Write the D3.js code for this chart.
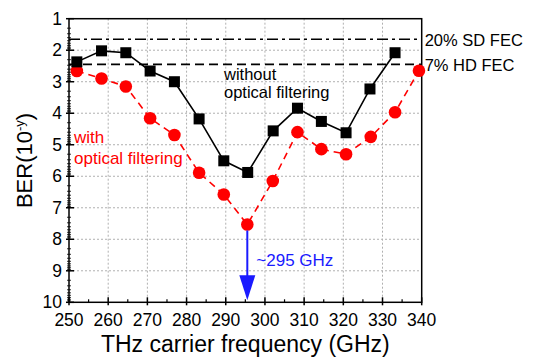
<!DOCTYPE html>
<html>
<head>
<meta charset="utf-8">
<script src="https://cdn.jsdelivr.net/npm/d3@7"></script>
<style>
  body { margin: 0; background: #fff; }
  text { font-family: "Liberation Sans", Arial, sans-serif; }
</style>
</head>
<body>
<svg id="chart" width="536" height="357"></svg>
<script>
// measured values
var freqWithout = [252, 258.3, 264.5, 270.7, 276.9, 283.2, 289.5, 295.6, 302.1, 308.3, 314.4, 320.7, 326.8, 333.2];
var berWithout = [2.37, 2.02, 2.08, 2.66, 3.0, 4.18, 5.51, 5.88, 4.56, 3.84, 4.26, 4.62, 3.23, 2.08];

var freqWith = [252, 258.3, 264.5, 270.7, 276.9, 283.2, 289.5, 295.5, 302, 308.3, 314.4, 320.7, 327, 333.2, 339.3];
var berWith = [2.66, 2.9, 3.15, 4.16, 4.69, 5.89, 6.58, 7.53, 6.15, 4.6, 5.14, 5.3, 4.75, 3.97, 2.65];

var xTicks = [250, 260, 270, 280, 290, 300, 310, 320, 330, 340];
var yTicks = [1, 2, 3, 4, 5, 6, 7, 8, 9, 10];
var sdFec = 1.65;
var hdFec = 2.45;
var peakFreq = 295.5;
var peakBer = 7.53;

var svg = d3.select("#chart");

var x = d3.scaleLinear().domain([250, 340]).range([69, 421.7]);
var y = d3.scaleLinear().domain([1, 10]).range([18.7, 302.3]);

// grid
svg.selectAll(".vgrid")
  .data(xTicks.slice(1, -1))
  .enter()
  .append("line")
  .attr("x1", d => x(d)).attr("x2", d => x(d))
  .attr("y1", y(1)).attr("y2", y(10))
  .attr("stroke", "#b0b0b0")
  .attr("stroke-width", 1)
  .attr("stroke-dasharray", "2,2");

svg.selectAll(".hgrid")
  .data(yTicks.slice(1, -1))
  .enter()
  .append("line")
  .attr("x1", x(250)).attr("x2", x(340))
  .attr("y1", d => y(d)).attr("y2", d => y(d))
  .attr("stroke", "#b0b0b0")
  .attr("stroke-width", 1)
  .attr("stroke-dasharray", "2,2");

// FEC thresholds
svg.append("line")
  .attr("x1", x(250)).attr("x2", x(340))
  .attr("y1", y(sdFec)).attr("y2", y(sdFec))
  .attr("stroke", "black").attr("stroke-width", 1.6)
  .attr("stroke-dasharray", "11,4,3,4");

svg.append("line")
  .attr("x1", x(250)).attr("x2", x(340))
  .attr("y1", y(hdFec)).attr("y2", y(hdFec))
  .attr("stroke", "black").attr("stroke-width", 1.6)
  .attr("stroke-dasharray", "9,5");

svg.append("text")
  .attr("x", x(340) + 3).attr("y", y(sdFec) + 7)
  .attr("font-size", 16.5)
  .text("20% SD FEC");

svg.append("text")
  .attr("x", x(340) + 3).attr("y", y(hdFec) + 7)
  .attr("font-size", 16.5)
  .text("7% HD FEC");

// frame
svg.append("rect")
  .attr("x", x(250)).attr("y", y(1))
  .attr("width", x(340) - x(250))
  .attr("height", y(10) - y(1))
  .attr("fill", "none")
  .attr("stroke", "black")
  .attr("stroke-width", 1.5);

// x ticks
var xMinor = [];
for (var i = 0; i < xTicks.length - 1; i++) xMinor.push(xTicks[i] + 5);

svg.selectAll(".xtick")
  .data(xTicks)
  .enter()
  .append("line")
  .attr("x1", d => x(d)).attr("x2", d => x(d))
  .attr("y1", y(10) + 3).attr("y2", y(10) - 5)
  .attr("stroke", "black").attr("stroke-width", 1.5);

svg.selectAll(".xminor")
  .data(xMinor)
  .enter()
  .append("line")
  .attr("x1", d => x(d)).attr("x2", d => x(d))
  .attr("y1", y(10)).attr("y2", y(10) - 3)
  .attr("stroke", "black").attr("stroke-width", 1.2);

svg.selectAll(".xlabel")
  .data(xTicks)
  .enter()
  .append("text")
  .attr("x", d => x(d))
  .attr("y", y(10) + 24)
  .attr("text-anchor", "middle")
  .attr("font-size", 17.5)
  .text(d => d);

// y ticks (log-style minor ticks)
var yMinor = [];
for (var n = 1; n < 10; n++) {
  for (var k = 2; k <= 9; k++) yMinor.push(n + Math.log10(k));
}

svg.selectAll(".ytick")
  .data(yTicks)
  .enter()
  .append("line")
  .attr("x1", x(250) - 3).attr("x2", x(250) + 5)
  .attr("y1", d => y(d)).attr("y2", d => y(d))
  .attr("stroke", "black").attr("stroke-width", 1.5);

svg.selectAll(".yminor")
  .data(yMinor)
  .enter()
  .append("line")
  .attr("x1", x(250) - 2).attr("x2", x(250) + 2)
  .attr("y1", d => y(d)).attr("y2", d => y(d))
  .attr("stroke", "black").attr("stroke-width", 0.8);

svg.selectAll(".ylabel")
  .data(yTicks)
  .enter()
  .append("text")
  .attr("x", x(250) - 7)
  .attr("y", d => y(d) + 6)
  .attr("text-anchor", "end")
  .attr("font-size", 17.5)
  .text(d => d);

// axis titles
svg.append("text")
  .attr("x", (x(250) + x(340)) / 2)
  .attr("y", 352)
  .attr("text-anchor", "middle")
  .attr("font-size", 23)
  .text("THz carrier frequency (GHz)");

var yTitle = svg.append("text")
  .attr("transform", "translate(32," + ((y(1) + y(10)) / 2) + ") rotate(-90)")
  .attr("text-anchor", "middle")
  .attr("font-size", 22);
yTitle.append("tspan").text("BER(10");
yTitle.append("tspan").attr("font-size", 13).attr("dy", -8).text("-y");
yTitle.append("tspan").attr("dy", 8).text(")");

// with optical filtering (red)
var redData = freqWith.map((f, i) => ({ f: f, b: berWith[i] }));
svg.append("path")
  .datum(redData)
  .attr("fill", "none")
  .attr("stroke", "red")
  .attr("stroke-width", 1.6)
  .attr("stroke-dasharray", "7,5")
  .attr("d", d3.line().x(d => x(d.f)).y(d => y(d.b)));

svg.selectAll(".redpt")
  .data(redData)
  .enter()
  .append("circle")
  .attr("cx", d => x(d.f))
  .attr("cy", d => y(d.b))
  .attr("r", 6.3)
  .attr("fill", "red");

// without optical filtering (black)
var blackData = freqWithout.map((f, i) => ({ f: f, b: berWithout[i] }));
svg.append("path")
  .datum(blackData)
  .attr("fill", "none")
  .attr("stroke", "black")
  .attr("stroke-width", 1.6)
  .attr("d", d3.line().x(d => x(d.f)).y(d => y(d.b)));

svg.selectAll(".blackpt")
  .data(blackData)
  .enter()
  .append("rect")
  .attr("x", d => x(d.f) - 5.5)
  .attr("y", d => y(d.b) - 5.5)
  .attr("width", 11)
  .attr("height", 11)
  .attr("fill", "black");

// arrow to ~295 GHz
svg.append("line")
  .attr("x1", x(peakFreq)).attr("x2", x(peakFreq))
  .attr("y1", y(peakBer) + 6).attr("y2", y(10) - 20)
  .attr("stroke", "#1a1aff")
  .attr("stroke-width", 2);

svg.append("path")
  .attr("d", "M" + (x(peakFreq) - 8) + "," + (y(10) - 27) +
    " L" + (x(peakFreq) + 8) + "," + (y(10) - 27) +
    " L" + x(peakFreq) + "," + (y(10) - 2) + " Z")
  .attr("fill", "#1a1aff");

svg.append("text")
  .attr("x", x(peakFreq) + 9)
  .attr("y", 266)
  .attr("font-size", 17)
  .attr("fill", "#1a1aff")
  .text("~295 GHz");

// annotations
svg.append("text").attr("x", 224).attr("y", 80).attr("font-size", 16.5).text("without");
svg.append("text").attr("x", 224).attr("y", 98).attr("font-size", 16.5).text("optical filtering");

svg.append("text").attr("x", 74).attr("y", 143).attr("font-size", 17).attr("fill", "red").text("with");
svg.append("text").attr("x", 74).attr("y", 164).attr("font-size", 17).attr("fill", "red").text("optical filtering");
</script>
</body>
</html>
